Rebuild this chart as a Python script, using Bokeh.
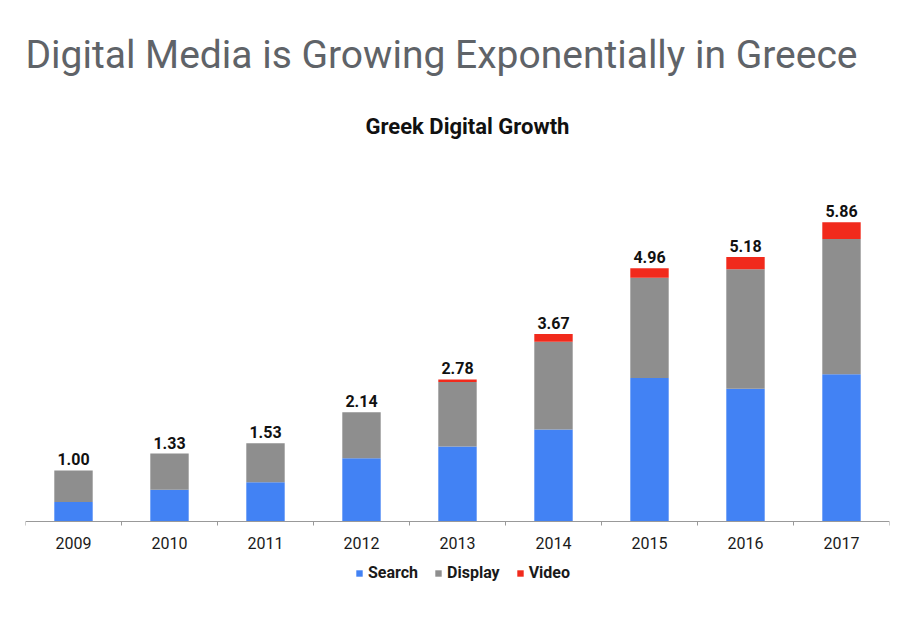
from bokeh.plotting import figure
from bokeh.models import (ColumnDataSource, FixedTicker, Legend, LegendItem, Title, Range1d)
from bokeh.core.properties import value
from bokeh.embed import file_html
from bokeh.resources import INLINE

years = ["2009", "2010", "2011", "2012", "2013", "2014", "2015", "2016", "2017"]
search = [0.38, 0.62, 0.77, 1.24, 1.47, 1.80, 2.81, 2.60, 2.88]
display = [0.62, 0.71, 0.76, 0.90, 1.26, 1.72, 1.96, 2.34, 2.65]
video = [0.00, 0.00, 0.00, 0.00, 0.05, 0.15, 0.19, 0.24, 0.33]
total_labels = ["1.00", "1.33", "1.53", "2.14", "2.78", "3.67", "4.96", "5.18", "5.86"]

series = ["Search", "Display", "Video"]
colors = ["#4282f4", "#8e8e8e", "#f12a1c"]

xs = [i + 0.5 for i in range(len(years))]
totals = [s + d + v for s, d, v in zip(search, display, video)]

source = ColumnDataSource(dict(x=xs, Search=search, Display=display, Video=video,
                               total=totals, label=total_labels))

p = figure(frame_width=864, frame_height=450,
           output_backend="svg", toolbar_location=None,
           x_range=Range1d(0, len(years)), y_range=Range1d(-1.41, 7.40),
           y_axis_location=None, min_border_left=25, min_border_right=15,
           min_border_top=30, min_border_bottom=0, title=None)

rs = p.vbar_stack(series, x="x", width=0.40, color=colors, source=source, line_width=0)

p.text(x="x", y="total", text="label", source=source, text_align="center",
       text_baseline="bottom", y_offset=-5, text_font=value("Roboto"),
       text_font_style="bold", text_font_size="16px", text_color="#111111")

ax = p.xaxis[0]
ax.fixed_location = 0
ax.ticker = FixedTicker(ticks=xs, minor_ticks=list(range(len(years) + 1)))
ax.major_label_overrides = {x: y for x, y in zip(xs, years)}
ax.major_tick_line_color = None
ax.minor_tick_in = 0
ax.minor_tick_out = 4
ax.minor_tick_line_color = "#999999"
ax.axis_line_color = "#999999"
ax.major_label_text_font = "Roboto"
ax.major_label_text_font_size = "16px"
ax.major_label_text_font_style = "normal"
ax.major_label_text_color = "#1a1a1a"
ax.major_label_standoff = 10

p.xgrid.grid_line_color = None
p.ygrid.grid_line_color = None
p.outline_line_color = None

legend = Legend(items=[LegendItem(label=s, renderers=[r]) for s, r in zip(series, rs)],
                orientation="horizontal", location=(330, 11), glyph_width=8, glyph_height=8,
                label_standoff=5, spacing=16, label_text_font="Roboto",
                label_text_font_style="bold", label_text_font_size="16px",
                label_text_color="#1a1a1a", border_line_color=None, background_fill_alpha=0,
                padding=0, margin=0)
p.add_layout(legend, "center")

p.add_layout(Title(text="Greek Digital Growth", align="left", offset=340, text_font="Roboto",
                   text_font_style="bold", text_font_size="22px", text_color="#111111"), "above")
p.add_layout(Title(text="Digital Media is Growing Exponentially in Greece", align="left",
                   offset=0, standoff=58, text_font="Roboto", text_font_style="normal",
                   text_font_size="39px", text_color="#5f6368"), "above")

open("out.html", "w").write(file_html(p, INLINE))
